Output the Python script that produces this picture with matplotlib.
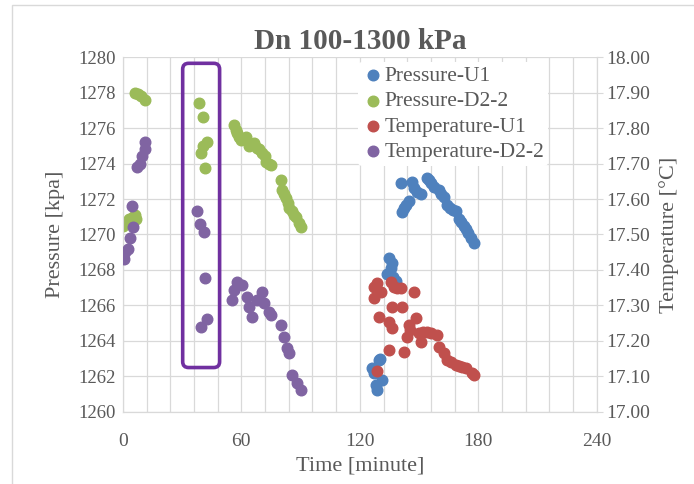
import numpy as np
import matplotlib
matplotlib.use("Agg")
import matplotlib.pyplot as plt
from matplotlib.patches import FancyBboxPatch, Rectangle
from matplotlib.ticker import MultipleLocator, FormatStrFormatter

plt.rcParams['font.family'] = ['Liberation Serif', 'DejaVu Serif']

# Pressure-U1 [kPa]
t_pu1 = [129.7, 126.1, 127.1, 131.2, 128.7, 128.1, 130.2,
         133.7, 135.7, 136.2, 134.7, 138.2, 137.0,
         141.3, 142.3, 143.3, 144.8, 140.8,
         146.3, 147.3, 149.0, 150.9,
         153.9, 155.0, 155.9, 157.5, 159.9, 161.0, 162.5, 164.0, 165.5,
         167.0, 168.5, 170.0, 171.3, 172.6, 174.0, 175.0, 176.5, 177.6]
p_pu1 = [1262.9, 1262.5, 1262.2, 1261.8, 1261.25, 1261.5, 1263.0,
         1267.8, 1268.1, 1268.4, 1268.7, 1267.4, 1267.6,
         1271.27, 1271.5, 1271.66, 1271.9, 1272.9,
         1272.96, 1272.6, 1272.4, 1272.3,
         1273.2, 1273.1, 1272.9, 1272.7, 1272.5, 1272.3, 1272.1, 1271.66, 1271.5,
         1271.4, 1271.3, 1270.9, 1270.7, 1270.5, 1270.3, 1270.1, 1269.8, 1269.5]

# Pressure-D2-2 [kPa]
t_pd2 = [0, 1.5, 3, 5, 6, 6.5,
         6, 7.5, 9, 11,
         38.4, 40.4, 42.4, 39.4, 40.4, 41.4,
         56.5, 57.5, 58, 59, 60, 61, 62.5, 64, 65, 66.6, 68, 69, 70.6, 72, 72.7, 74, 75.2,
         80.2, 80.7, 81.5, 82.7, 83.5, 84.3, 85.8, 86.8, 87.8, 89.3, 90.3]
p_pd2 = [1270.5, 1270.7, 1270.9, 1271.0, 1271.1, 1270.9,
         1278.0, 1277.9, 1277.8, 1277.6,
         1277.4, 1276.6, 1275.2, 1274.6, 1275.0, 1273.75,
         1276.2, 1275.9, 1275.7, 1275.5, 1275.3, 1275.4, 1275.5, 1275.0, 1275.1, 1275.15,
         1274.9, 1274.8, 1274.6, 1274.4, 1274.1, 1274.0, 1273.9,
         1273.1, 1272.5, 1272.3, 1272.05, 1271.8, 1271.5, 1271.3, 1271.1, 1271.0, 1270.65, 1270.4]

# Temperature-U1 [C]
t_tu1 = [127.1, 128.7, 130.7, 127.1, 135.7, 137.2, 140.8, 147.3, 136.2, 141.3,
         129.7, 134.7, 136.2, 148.3, 144.8, 143.8, 149.8, 152, 154, 155.9, 158.9,
         150.9, 134.7, 142.3, 160, 162.5, 164, 166, 168.5, 170, 171.5, 174, 176.6,
         177.6, 128.7, 139, 145.5]
c_tu1 = [17.352, 17.363, 17.338, 17.32, 17.366, 17.352, 17.35, 17.338, 17.296, 17.296,
         17.268, 17.254, 17.237, 17.265, 17.245, 17.211, 17.223, 17.225, 17.225, 17.223, 17.217,
         17.197, 17.175, 17.169, 17.183, 17.166, 17.146, 17.14, 17.132, 17.13, 17.127, 17.124, 17.11,
         17.104, 17.115, 17.35, 17.23]

# Temperature-D2-2 [C]
t_td2 = [0.5, 1.0, 2.5, 3.5, 5.0, 4.5,
         7.1, 8.6, 9.6, 11.1, 11.1,
         37.8, 38.9, 40.9, 41.4, 42.4, 39.4,
         55.5, 56.5, 58, 60.5, 63, 64, 65.6, 68, 70.6, 71.6, 74.2, 75.2,
         80.2, 81.7, 83.2, 84.3, 85.8, 88.3, 90.3]
c_td2 = [17.43, 17.45, 17.46, 17.49, 17.52, 17.58,
         17.69, 17.70, 17.72, 17.74, 17.76,
         17.566, 17.53, 17.507, 17.377, 17.262, 17.24,
         17.316, 17.344, 17.366, 17.358, 17.324, 17.296, 17.268, 17.316, 17.338, 17.307,
         17.282, 17.273, 17.245, 17.21, 17.18, 17.166, 17.104, 17.082, 17.062]

x_ticks = [0, 60, 120, 180, 240]

txt = '#595959'
grid_c = '#D9D9D9'
blue, green, red, purple = '#4F81BD', '#9BBB59', '#C0504D', '#8064A2'
ms = 58

fig = plt.figure(figsize=(6.94, 4.84), dpi=100)
ax = fig.add_axes([0.177, 0.149, 0.683, 0.733])
ax2 = ax.twinx()

# chart area border
fig.patches.append(Rectangle((0.017, -0.05), 1.1, 1.04, transform=fig.transFigure,
                             fill=False, edgecolor=grid_c, linewidth=1))

ax.set_xlim(0, 240)
ax.set_ylim(1260, 1280)
ax2.set_ylim(17.0, 18.0)
ax.set_xticks(x_ticks)
ax.xaxis.set_minor_locator(MultipleLocator(12))
ax.yaxis.set_major_locator(MultipleLocator(2))
ax2.yaxis.set_major_locator(MultipleLocator(0.1))
ax2.yaxis.set_major_formatter(FormatStrFormatter('%.2f'))

ax.grid(True, which='both', axis='x', color=grid_c, linewidth=0.9)
ax.grid(True, which='major', axis='y', color=grid_c, linewidth=0.9)
ax.set_axisbelow(True)

for a in (ax, ax2):
    for s in a.spines.values():
        s.set_color(grid_c)
    a.spines['top'].set_visible(False)
    a.tick_params(colors=txt, labelsize=14, length=4, color=grid_c, pad=3)
ax.tick_params(axis='y', length=0, pad=5, labelsize=13.5)
ax.tick_params(axis='x', length=0, pad=15)
ax.tick_params(which='minor', length=0)

s1 = ax.scatter(t_pu1, p_pu1, s=ms, color=blue, label='Pressure-U1', zorder=3)
s2 = ax.scatter(t_pd2, p_pd2, s=ms, color=green, label='Pressure-D2-2', zorder=3)
s3 = ax2.scatter(t_tu1, c_tu1, s=ms, color=red, label='Temperature-U1', zorder=3)
s4 = ax2.scatter(t_td2, c_td2, s=ms, color=purple, label='Temperature-D2-2', zorder=3)

box = FancyBboxPatch((30.3, 1262.5), 18.7, 17.15,
                     boxstyle='round,pad=0,rounding_size=3',
                     mutation_aspect=0.1115, fill=False,
                     edgecolor='#7030A0', linewidth=2.6, zorder=5)
ax.add_patch(box)

ax.set_xlabel('Time [minute]', color=txt, fontsize=16, labelpad=5)
ax.set_ylabel('Pressure [kpa]', color=txt, fontsize=16, labelpad=10)
ax2.set_ylabel('Temperature [\u00b0C]', color=txt, fontsize=16, labelpad=6)
ax.set_title('Dn 100-1300 kPa', color=txt, fontsize=21, fontweight='bold', pad=6)

leg = ax2.legend(handles=[s1, s2, s3, s4], loc='upper left',
                 bbox_to_anchor=(0.497, 0.987), frameon=True, fontsize=15.5,
                 handletextpad=0.0, borderaxespad=0, labelspacing=0.24,
                 markerscale=1.0, handlelength=1.0, borderpad=0.2)
leg.get_frame().set_facecolor('white')
leg.get_frame().set_edgecolor('none')
leg.get_frame().set_alpha(1)
for t in leg.get_texts():
    t.set_color(txt)

fig.savefig('out.png', dpi=100)
